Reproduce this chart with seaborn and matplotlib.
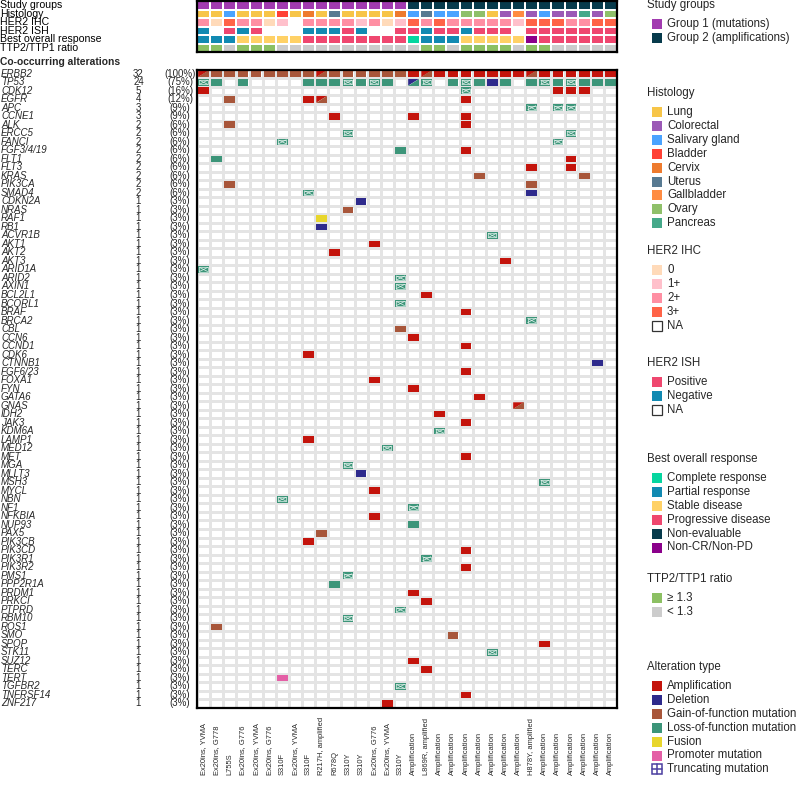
import numpy as np
import pandas as pd
import seaborn as sns
import matplotlib.pyplot as plt
from matplotlib.colors import ListedColormap
from matplotlib.patches import Rectangle, Polygon
from matplotlib.transforms import blended_transform_factory

sns.set_theme(style='white')
plt.rcParams['font.family'] = ['Liberation Sans', 'DejaVu Sans']

# %% --------------------------------------------------------------------
# Data (32 patients, left to right)

patient_labels = ['Ex20ins, YVMA', 'Ex20ins, G778', 'L755S', 'Ex20ins, G776', 'Ex20ins, YVMA',
                  'Ex20ins, G776', 'S310F', 'Ex20ins, YVMA', 'S310F', 'R217H, amplified', 'R678Q',
                  'S310Y', 'S310Y', 'Ex20ins, G776', 'Ex20ins, YVMA', 'S310Y', 'Amplification',
                  'L869R, amplified', 'Amplification', 'Amplification', 'Amplification', 'Amplification',
                  'Amplification', 'Amplification', 'Amplification', 'H878Y, amplified', 'Amplification',
                  'Amplification', 'Amplification', 'Amplification', 'Amplification', 'Amplification']

study_group = ['G1'] * 16 + ['G2'] * 16
histology = ['Lung', 'Lung', 'Salivary gland', 'Lung', 'Lung', 'Lung', 'Bladder', 'Lung',
             'Cervix', 'Lung', 'Uterus', 'Lung', 'Lung', 'Lung', 'Lung', 'Cervix',
             'Salivary gland', 'Uterus', 'Salivary gland', 'Salivary gland', 'Ovary', 'Ovary', 'Lung', 'Colorectal',
             'Gallbladder', 'Colorectal', 'Salivary gland', 'Colorectal', 'Colorectal', 'Pancreas', 'Colorectal', 'Ovary']
her2_ihc = ['2+', '0', '3+', '2+', '2+', '0', '1+', 'NA', '2+', '2+', '2+', '2+', '1+', '2+', '0', '1+',
            '3+', '2+', '3+', '2+', '2+', '2+', '2+', '2+', '1+', '3+', '3+', '3+', '2+', '2+', '3+', '3+']
her2_ish = ['Negative', 'NA', 'Positive', 'Negative', 'Positive', 'NA', 'NA', 'NA',
            'Negative', 'Negative', 'Negative', 'Positive', 'Negative', 'NA', 'NA', 'Positive',
            'Positive', 'Negative', 'Positive', 'Positive', 'Negative', 'Positive', 'Positive', 'Positive',
            'NA', 'Positive', 'Positive', 'Positive', 'Positive', 'Positive', 'Positive', 'Positive']
best_response = ['PR', 'PR', 'PR', 'SD', 'SD', 'SD', 'SD', 'SD', 'PD', 'PD', 'PD', 'PD', 'PD', 'PD', 'PD', 'PD',
                 'CR', 'PR', 'PR', 'PR', 'SD', 'SD', 'SD', 'SD', 'SD', 'NCR', 'PD', 'PD', 'PD', 'PD', 'PD', 'PD']
ttp_ratio = ['hi', 'hi', 'lo', 'hi', 'hi', 'hi', 'lo', 'lo', 'lo', 'lo', 'lo', 'lo', 'lo', 'lo', 'lo', 'lo',
             'lo', 'hi', 'hi', 'lo', 'hi', 'hi', 'hi', 'hi', 'lo', 'hi', 'hi', 'lo', 'lo', 'lo', 'lo', 'lo']

genes = ['ERBB2', 'TP53', 'CDK12', 'EGFR', 'APC', 'CCNE1', 'ALK', 'ERCC5', 'FANCI', 'FGF3/4/19',
         'FLT1', 'FLT3', 'KRAS', 'PIK3CA', 'SMAD4', 'CDKN2A', 'NRAS', 'RAF1', 'RB1', 'ACVR1B',
         'AKT1', 'AKT2', 'AKT3', 'ARID1A', 'ARID2', 'AXIN1', 'BCL2L1', 'BCORL1', 'BRAF', 'BRCA2',
         'CBL', 'CCN6', 'CCND1', 'CDK6', 'CTNNB1', 'FGF6/23', 'FOXA1', 'FYN', 'GATA6', 'GNAS',
         'IDH2', 'JAK3', 'KDM6A', 'LAMP1', 'MED12', 'MET', 'MGA', 'MLLT3', 'MSH3', 'MYCL',
         'NBN', 'NF1', 'NFKBIA', 'NUP93', 'PAX5', 'PIK3CB', 'PIK3CD', 'PIK3R1', 'PIK3R2', 'PMS1',
         'PPP2R1A', 'PRDM1', 'PRKCI', 'PTPRD', 'RBM10', 'ROS1', 'SMO', 'SPOP', 'STK11', 'SUZ12',
         'TERC', 'TERT', 'TGFBR2', 'TNFRSF14', 'ZNF217']

# A amplification, D deletion, G gain-of-function, L loss-of-function,
# F fusion, P promoter, T truncating; two letters = split cell
erbb2 = ['AG', 'G', 'G', 'G', 'G', 'G', 'G', 'G', 'G', 'AG', 'G', 'G', 'G', 'G', 'G', 'G',
         'A', 'AG', 'A', 'A', 'A', 'A', 'A', 'A', 'A', 'AG', 'A', 'A', 'A', 'A', 'A', 'A']
tp53 = ['T', 'L', '', 'L', '', '', '', '', 'L', 'L', 'L', 'T', 'L', 'T', 'L', '',
        'DL', 'T', '', 'L', 'T', 'L', 'D', 'L', '', 'L', 'T', 'L', 'T', 'L', 'L', 'L']
other_alts = [
    ('CDK12', 0, 'A'), ('CDK12', 20, 'T'), ('CDK12', 27, 'A'), ('CDK12', 28, 'A'), ('CDK12', 29, 'A'),
    ('EGFR', 2, 'G'), ('EGFR', 8, 'A'), ('EGFR', 9, 'AG'), ('EGFR', 20, 'A'),
    ('APC', 25, 'T'), ('APC', 27, 'T'), ('APC', 28, 'T'),
    ('CCNE1', 10, 'A'), ('CCNE1', 16, 'A'), ('CCNE1', 20, 'A'),
    ('ALK', 2, 'G'), ('ALK', 20, 'A'),
    ('ERCC5', 11, 'T'), ('ERCC5', 28, 'T'),
    ('FANCI', 6, 'T'), ('FANCI', 27, 'T'),
    ('FGF3/4/19', 15, 'L'), ('FGF3/4/19', 20, 'A'),
    ('FLT1', 1, 'L'), ('FLT1', 28, 'A'),
    ('FLT3', 25, 'A'), ('FLT3', 28, 'A'),
    ('KRAS', 21, 'G'), ('KRAS', 29, 'G'),
    ('PIK3CA', 2, 'G'), ('PIK3CA', 25, 'G'),
    ('SMAD4', 8, 'T'), ('SMAD4', 25, 'D'),
    ('CDKN2A', 12, 'D'), ('NRAS', 11, 'G'), ('RAF1', 9, 'F'), ('RB1', 9, 'D'),
    ('ACVR1B', 22, 'T'), ('AKT1', 13, 'A'), ('AKT2', 10, 'A'), ('AKT3', 23, 'A'),
    ('ARID1A', 0, 'T'), ('ARID2', 15, 'T'), ('AXIN1', 15, 'T'), ('BCL2L1', 17, 'A'),
    ('BCORL1', 15, 'T'), ('BRAF', 20, 'A'), ('BRCA2', 25, 'T'), ('CBL', 15, 'G'),
    ('CCN6', 16, 'A'), ('CCND1', 20, 'A'), ('CDK6', 8, 'A'), ('CTNNB1', 30, 'D'),
    ('FGF6/23', 20, 'A'), ('FOXA1', 13, 'A'), ('FYN', 16, 'A'), ('GATA6', 21, 'A'),
    ('GNAS', 24, 'AG'), ('IDH2', 18, 'A'), ('JAK3', 20, 'A'), ('KDM6A', 18, 'T'),
    ('LAMP1', 8, 'A'), ('MED12', 14, 'T'), ('MET', 20, 'A'), ('MGA', 11, 'T'),
    ('MLLT3', 12, 'D'), ('MSH3', 26, 'T'), ('MYCL', 13, 'A'), ('NBN', 6, 'T'),
    ('NF1', 16, 'T'), ('NFKBIA', 13, 'A'), ('NUP93', 16, 'L'), ('PAX5', 9, 'G'),
    ('PIK3CB', 8, 'A'), ('PIK3CD', 20, 'A'), ('PIK3R1', 17, 'T'), ('PIK3R2', 20, 'A'),
    ('PMS1', 11, 'T'), ('PPP2R1A', 10, 'L'), ('PRDM1', 16, 'A'), ('PRKCI', 17, 'A'),
    ('PTPRD', 15, 'T'), ('RBM10', 11, 'T'), ('ROS1', 1, 'G'), ('SMO', 19, 'G'),
    ('SPOP', 26, 'A'), ('STK11', 22, 'T'), ('SUZ12', 16, 'A'), ('TERC', 17, 'A'),
    ('TERT', 6, 'P'), ('TGFBR2', 15, 'T'), ('TNFRSF14', 20, 'A'), ('ZNF217', 14, 'A'),
]

# %% --------------------------------------------------------------------
# Palettes

group_levels = ['G1', 'G2']
group_names = ['Group 1 (mutations)', 'Group 2 (amplifications)']
group_colors = ['#A23BB0', '#073B4C']
histo_levels = ['Lung', 'Colorectal', 'Salivary gland', 'Bladder', 'Cervix', 'Uterus',
                'Gallbladder', 'Ovary', 'Pancreas']
histo_colors = ['#F7C548', '#9B59B6', '#4AA3FF', '#FF4136', '#EE7B2E', '#587A92',
                '#FF8C42', '#8FC06A', '#45A98A']
ihc_levels = ['0', '1+', '2+', '3+', 'NA']
ihc_colors = ['#FFDAB9', '#FFC0CB', '#FF8FA3', '#FF6347', 'white']
ish_levels = ['Positive', 'Negative', 'NA']
ish_colors = ['#EF476F', '#118AB2', 'white']
bor_levels = ['CR', 'PR', 'SD', 'PD', 'NE', 'NCR']
bor_names = ['Complete response', 'Partial response', 'Stable disease', 'Progressive disease',
             'Non-evaluable', 'Non-CR/Non-PD']
bor_colors = ['#06D6A0', '#118AB2', '#FFD166', '#EF476F', '#073B4C', '#8B008B']
ttp_levels = ['hi', 'lo']
ttp_names = ['\u2265 1.3', '< 1.3']
ttp_colors = ['#8CC063', '#CCCCCC']
alt_codes = ['A', 'D', 'G', 'L', 'F', 'P', 'T']
alt_names = ['Amplification', 'Deletion', 'Gain-of-function mutation', 'Loss-of-function mutation',
             'Fusion', 'Promoter mutation', 'Truncating mutation']
alt_colors = ['#C4140C', '#2E2A8C', '#A8563A', '#3C9579', '#E8D62C', '#E45FA6', '#3C9579']
alt_col = dict(zip(alt_codes, alt_colors))

# %% --------------------------------------------------------------------
# Figure

W, H = 800, 789
fig = plt.figure(figsize=(W / 100, H / 100), dpi=100)


def px_axes(x0, y0, x1, y1):
    return fig.add_axes([x0 / W, 1 - y1 / H, (x1 - x0) / W, (y1 - y0) / H])


GX0, GX1 = 197, 617

# annotation block
annot_rows = [
    ('Study groups', study_group, group_levels, group_colors),
    ('Histology', histology, histo_levels, histo_colors),
    ('HER2 IHC', her2_ihc, ihc_levels, ihc_colors),
    ('HER2 ISH', her2_ish, ish_levels, ish_colors),
    ('Best overall response', best_response, bor_levels, bor_colors),
    ('TTP2/TTP1 ratio', ttp_ratio, ttp_levels, ttp_colors),
]
cell_colors = []
codes = np.zeros((len(annot_rows), len(patient_labels)))
for r, (lab, vals, levels, cols) in enumerate(annot_rows):
    for c, v in enumerate(vals):
        col = cols[levels.index(v)]
        if col not in cell_colors:
            cell_colors.append(col)
        codes[r, c] = cell_colors.index(col)

ax_a = px_axes(GX0, 1, GX1, 52)
sns.heatmap(codes, ax=ax_a, cmap=ListedColormap(cell_colors), vmin=-0.5,
            vmax=len(cell_colors) - 0.5, cbar=False, linewidths=1.2, linecolor='white',
            xticklabels=False, yticklabels=False)
for s in ax_a.spines.values():
    s.set_visible(True)
    s.set_color('black')
    s.set_linewidth(1.6)
tr_a = blended_transform_factory(fig.transFigure, ax_a.transData)
for r, row in enumerate(annot_rows):
    ax_a.text(0.5 / W, r + 0.5, row[0], transform=tr_a, ha='left', va='center',
              fontsize=7.6, color='black')

# main alteration grid
ax_m = px_axes(GX0, 69.5, GX1, 707.7)
grid = pd.DataFrame(np.zeros((len(genes), len(patient_labels))), index=genes,
                    columns=range(len(patient_labels)))
sns.heatmap(grid, ax=ax_m, cmap=ListedColormap(['white']), cbar=False, linewidths=0.8,
            linecolor='#E4E4E4', xticklabels=False, yticklabels=False)
for s in ax_m.spines.values():
    s.set_visible(True)
    s.set_color('black')
    s.set_linewidth(1.6)


def draw_mark(ax, c, r, code):
    x0, x1 = c + 0.09, c + 0.91
    y0, y1 = r + 0.11, r + 0.89
    if len(code) == 2:
        ax.add_patch(Polygon([(x0, y0), (x1, y0), (x0, y1)], closed=True,
                             fc=alt_col[code[0]], ec='none'))
        ax.add_patch(Polygon([(x1, y0), (x1, y1), (x0, y1)], closed=True,
                             fc=alt_col[code[1]], ec='none'))
        return
    ax.add_patch(Rectangle((x0, y0), x1 - x0, y1 - y0, fc=alt_col[code], ec='none'))
    if code == 'T':
        ix0, ix1, iy0, iy1 = x0 + 0.1, x1 - 0.1, y0 + 0.15, y1 - 0.15
        lc = '#F2FAF7'
        ax.add_patch(Rectangle((ix0, iy0), ix1 - ix0, iy1 - iy0, fc='none', ec=lc, lw=0.45))
        ax.plot([ix0, ix1], [iy0, iy1], color=lc, lw=0.45)
        ax.plot([ix0, ix1], [iy1, iy0], color=lc, lw=0.45)


all_alts = [('ERBB2', c, k) for c, k in enumerate(erbb2) if k] + \
           [('TP53', c, k) for c, k in enumerate(tp53) if k] + other_alts
for g, c, k in all_alts:
    draw_mark(ax_m, c, genes.index(g), k)

counts = pd.Series([g for g, c, k in all_alts]).value_counts()
n_pat = len(patient_labels)
tr_m = blended_transform_factory(fig.transFigure, ax_m.transData)
for r, g in enumerate(genes):
    n = counts[g]
    ax_m.text(1 / W, r + 0.5, g, transform=tr_m, ha='left', va='center', fontsize=7,
              style='italic')
    ax_m.text(138.5 / W, r + 0.5, str(n), transform=tr_m, ha='center', va='center', fontsize=7)
    ax_m.text(180 / W, r + 0.5, '(%d%%)' % round(n / n_pat * 100), transform=tr_m,
              ha='center', va='center', fontsize=7)
ax_m.text(0.5 / W, -0.85, 'Co-occurring alterations', transform=tr_m, ha='left',
          va='center', fontsize=7.4, fontweight='bold')

tr_b = blended_transform_factory(ax_m.transData, fig.transFigure)
for c, lab in enumerate(patient_labels):
    ax_m.text(c + 0.5, 1 - 775 / H, lab, transform=tr_b, rotation=90, ha='center',
              va='bottom', fontsize=5.4)

# %% --------------------------------------------------------------------
# Legend

ax_l = fig.add_axes([0, 0, 1, 1])
ax_l.set_xlim(0, W)
ax_l.set_ylim(H, 0)
ax_l.axis('off')
ax_l.patch.set_visible(False)

legend_blocks = [
    ('Study groups', 5, group_names, group_colors),
    ('Histology', 93, histo_levels, histo_colors),
    ('HER2 IHC', 251, ihc_levels, ihc_colors),
    ('HER2 ISH', 363, ish_levels, ish_colors),
    ('Best overall response', 459, bor_names, bor_colors),
    ('TTP2/TTP1 ratio', 579, ttp_names, ttp_colors),
    ('Alteration type', 667, alt_names, alt_colors),
]
for title, ty, names, cols in legend_blocks:
    ax_l.text(647, ty, title, ha='left', va='center', fontsize=8.3)
    for i, (nm, col) in enumerate(zip(names, cols)):
        y = ty + 19 + 13.9 * i
        if nm == 'NA':
            ax_l.add_patch(Rectangle((652, y - 5), 10, 10, fc='white', ec='#333333', lw=0.9))
        elif nm == 'Truncating mutation':
            ax_l.add_patch(Rectangle((652, y - 5), 10, 10, fc='white', ec='#4B3FA0', lw=1.1))
            ax_l.plot([657, 657], [y - 5, y + 5], color='#4B3FA0', lw=1.1)
            ax_l.plot([652, 662], [y, y], color='#4B3FA0', lw=1.1)
        else:
            ax_l.add_patch(Rectangle((652, y - 5), 10, 10, fc=col, ec='none'))
        ax_l.text(667, y, nm, ha='left', va='center', fontsize=8.3)

fig.savefig('out.png', dpi=100)
